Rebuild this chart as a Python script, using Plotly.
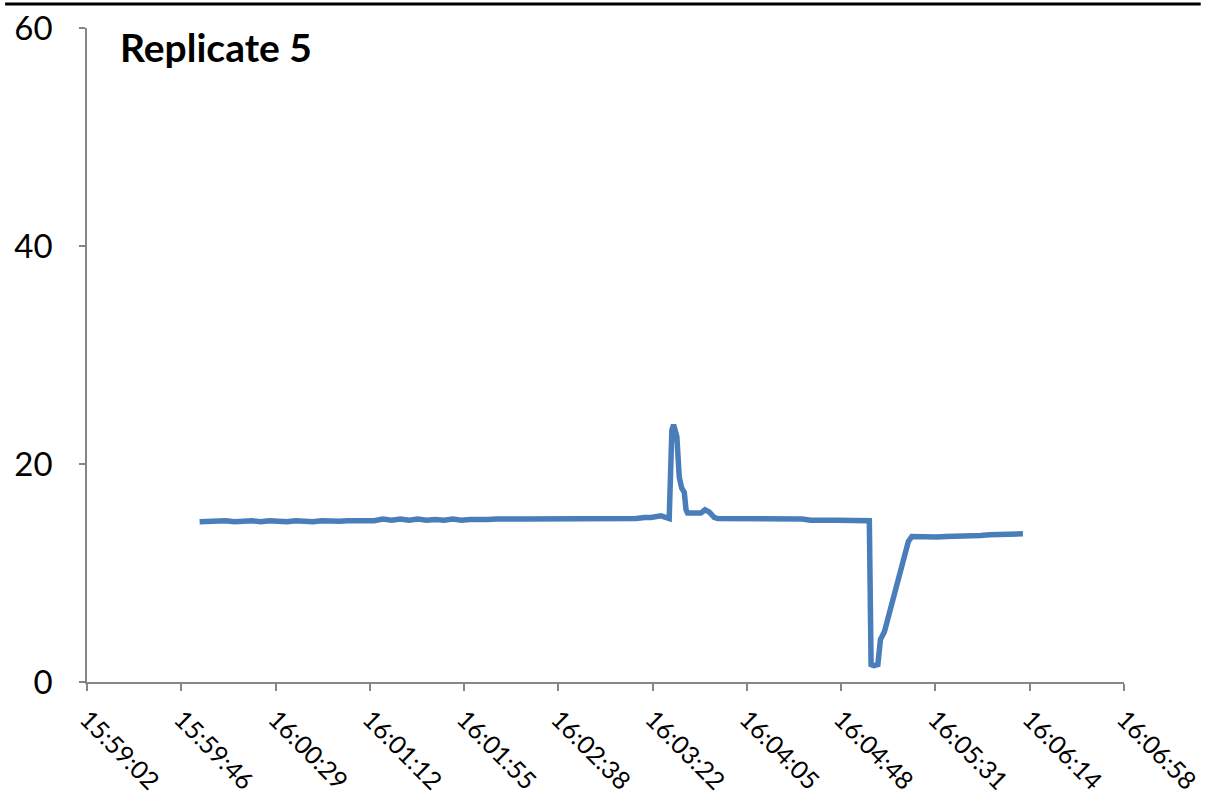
import plotly.graph_objects as go

DAY = "2020-01-01 "

times = [
    "15:59:54", "15:59:58", "16:00:02", "16:00:06", "16:00:10", "16:00:14",
    "16:00:18", "16:00:22", "16:00:26", "16:00:30", "16:00:34", "16:00:38",
    "16:00:42", "16:00:46", "16:00:50", "16:00:54", "16:00:58", "16:01:02",
    "16:01:06", "16:01:10", "16:01:14", "16:01:18", "16:01:22", "16:01:26",
    "16:01:30", "16:01:34", "16:01:38", "16:01:42", "16:01:46", "16:01:50",
    "16:01:54", "16:01:58", "16:02:02", "16:02:06", "16:02:10", "16:02:14",
    "16:02:18", "16:02:22", "16:02:26", "16:02:30", "16:02:34", "16:02:38",
    "16:02:42", "16:02:46", "16:02:50", "16:02:54", "16:02:58", "16:03:02",
    "16:03:06", "16:03:10", "16:03:14", "16:03:18", "16:03:20.8", "16:03:25.4",
    "16:03:27.7", "16:03:29.2", "16:03:30.4", "16:03:31.2", "16:03:32.7",
    "16:03:33.8", "16:03:34.9", "16:03:36.1", "16:03:36.9", "16:03:37.6",
    "16:03:43.7", "16:03:45.6", "16:03:47.5", "16:03:49.8", "16:03:51.4",
    "16:03:54", "16:03:58", "16:04:02", "16:04:06", "16:04:10", "16:04:14",
    "16:04:18", "16:04:22", "16:04:26", "16:04:30", "16:04:34", "16:04:38",
    "16:04:42", "16:04:46", "16:04:50", "16:04:54", "16:04:58", "16:05:00.9",
    "16:05:01.7", "16:05:03", "16:05:04.8", "16:05:06", "16:05:07.8",
    "16:05:10.1", "16:05:12.4", "16:05:14.7", "16:05:17", "16:05:18.8",
    "16:05:20.4", "16:05:24", "16:05:28", "16:05:32", "16:05:36", "16:05:40",
    "16:05:44", "16:05:48", "16:05:52", "16:05:56", "16:06:00", "16:06:04",
    "16:06:08", "16:06:11.3",
]

values = [
    14.7, 14.75, 14.7, 14.8, 14.7, 14.75,
    14.8, 14.7, 14.8, 14.75, 14.7, 14.8,
    14.75, 14.7, 14.8, 14.75, 14.75, 14.8,
    14.8, 14.8, 14.8, 14.95, 14.85, 14.95,
    14.85, 14.95, 14.85, 14.9, 14.85, 14.95,
    14.85, 14.9, 14.85, 14.9, 14.95, 14.9,
    14.95, 14.95, 14.95, 14.95, 15.0, 14.95,
    15.0, 14.95, 15.0, 15.05, 15.0, 15.05,
    15.0, 15.05, 15.0, 15.1, 15.1, 15.25,
    15.1, 15.0, 23.1, 23.6, 22.5,
    18.8, 17.8, 17.4, 15.8, 15.5,
    15.5, 15.8, 15.6, 15.1, 15.0,
    15.0, 14.95, 15.0, 14.95, 15.0, 14.95,
    15.0, 14.95, 14.9, 14.95, 14.85, 14.9,
    14.85, 14.85, 14.85, 14.8, 14.75, 14.8,
    1.6, 1.5, 1.6, 3.9, 4.6,
    6.3, 7.8, 9.4, 11.3, 12.9,
    13.35, 13.3, 13.35, 13.3, 13.35, 13.35,
    13.4, 13.45, 13.45, 13.5, 13.5, 13.55,
    13.6, 13.6,
]

x_range = ["15:59:02.4", "16:06:57.6"]
x_tickvals = [
    "15:59:02.4", "15:59:45.6", "16:00:28.8", "16:01:12.0", "16:01:55.2",
    "16:02:38.4", "16:03:21.6", "16:04:04.8", "16:04:48.0", "16:05:31.2",
    "16:06:14.4", "16:06:57.6",
]
x_ticktext = [
    "15:59:02", "15:59:46", "16:00:29", "16:01:12", "16:01:55", "16:02:38",
    "16:03:22", "16:04:05", "16:04:48", "16:05:31", "16:06:14", "16:06:58",
]
y_tickvals = [0, 20, 40, 60]
title_text = "Replicate 5"

FONT = "Lato"
AXIS_COLOR = "#868686"

fig = go.Figure()
fig.add_trace(go.Scatter(
    x=[DAY + t for t in times],
    y=values,
    mode="lines",
    line=dict(color="#4A7EBB", width=5.5),
    showlegend=False,
))

fig.update_layout(
    width=1206, height=796,
    margin=dict(l=87, r=82, t=28, b=114),
    paper_bgcolor="white", plot_bgcolor="white",
    font=dict(family=FONT, color="black"),
    xaxis=dict(
        type="date",
        range=[DAY + x_range[0], DAY + x_range[1]],
        tickmode="array",
        tickvals=[DAY + t for t in x_tickvals],
        ticktext=x_ticktext,
        tickangle=45,
        tickfont=dict(size=25, family=FONT, color="black"),
        showline=True, linecolor=AXIS_COLOR, linewidth=1.5,
        ticks="outside", ticklen=7, tickcolor=AXIS_COLOR, tickwidth=1.5,
        ticklabelstandoff=4,
        showgrid=False, zeroline=False, automargin=False,
    ),
    yaxis=dict(
        range=[0, 60],
        tickmode="array",
        tickvals=y_tickvals,
        tickfont=dict(size=33, family=FONT, color="black"),
        showline=True, linecolor=AXIS_COLOR, linewidth=1.5,
        ticks="outside", ticklen=6, tickcolor=AXIS_COLOR, tickwidth=1.5,
        ticklabelstandoff=20,
        showgrid=False, zeroline=False, automargin=False,
    ),
    annotations=[dict(
        text="<b>" + title_text + "</b>",
        xref="paper", yref="paper",
        x=0.030, y=0.971, xanchor="left", yanchor="middle",
        showarrow=False,
        font=dict(size=39, family=FONT, color="black"),
    )],
    shapes=[dict(
        type="line", xref="paper", yref="paper",
        x0=-0.079, x1=1.074, y0=1.0367, y1=1.0367,
        line=dict(color="black", width=3),
    )],
)

fig.write_html(
    "out.html",
    config={"displayModeBar": False},
    post_script="document.body.style.margin='0';document.body.style.overflow='hidden';",
)
